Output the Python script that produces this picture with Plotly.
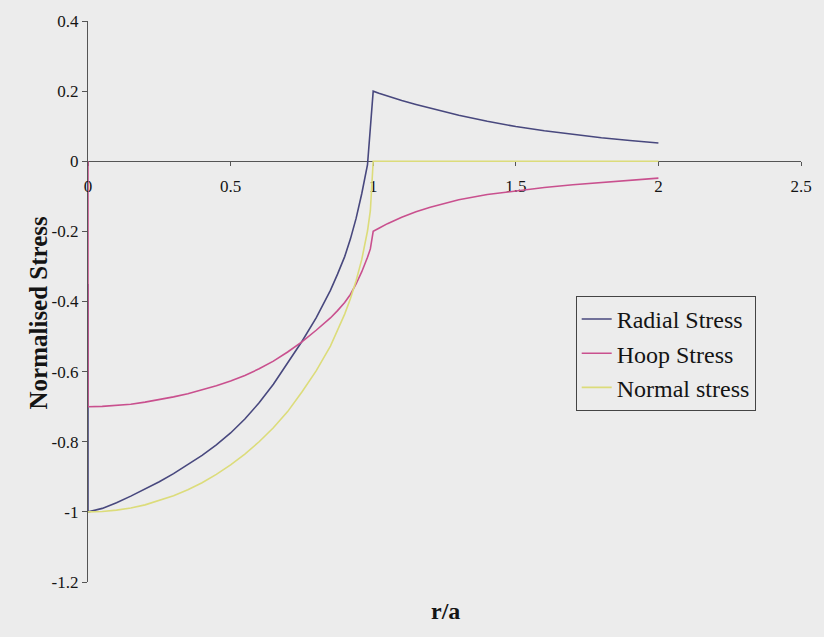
import plotly.graph_objects as go

# r/a values (0 repeated: first point is the singular value at the centre)
r = [0.0, 0.0, 0.05, 0.1, 0.15, 0.2, 0.25, 0.3, 0.35, 0.4, 0.45, 0.5, 0.55, 0.6, 0.65, 0.7,
     0.75, 0.8, 0.85, 0.875, 0.9, 0.92, 0.94, 0.96, 0.97, 0.98, 0.99, 1.0,
     1.02, 1.05, 1.1, 1.15, 1.2, 1.25, 1.3, 1.4, 1.5, 1.6, 1.7, 1.8, 1.9, 2.0]

radial = [-0.35, -1.0, -0.99, -0.974, -0.955, -0.935, -0.914, -0.891, -0.866, -0.839, -0.809,
          -0.775, -0.735, -0.689, -0.636, -0.576, -0.514, -0.447, -0.368, -0.322, -0.272, -0.222,
          -0.163, -0.092, -0.053, -0.01, 0.095, 0.2,
          0.194, 0.186, 0.173, 0.162, 0.151, 0.141, 0.131, 0.114, 0.099, 0.087, 0.076, 0.067,
          0.059, 0.052]

hoop = [0.0, -0.70, -0.699, -0.697, -0.693, -0.687, -0.68, -0.672, -0.663, -0.652, -0.64,
        -0.627, -0.611, -0.592, -0.57, -0.544, -0.515, -0.482, -0.447, -0.426, -0.403, -0.38,
        -0.35, -0.315, -0.296, -0.274, -0.25, -0.2,
        -0.191, -0.178, -0.16, -0.144, -0.131, -0.12, -0.11, -0.095, -0.084, -0.075, -0.067,
        -0.06, -0.054, -0.048]

normal = [-1.0, -1.0, -0.999, -0.995, -0.989, -0.98, -0.968, -0.954, -0.937, -0.917, -0.893,
          -0.866, -0.835, -0.8, -0.76, -0.714, -0.658, -0.598, -0.527, -0.484, -0.436, -0.392,
          -0.341, -0.28, -0.243, -0.199, -0.141, 0.0,
          0.0, 0.0, 0.0, 0.0, 0.0, 0.0, 0.0, 0.0, 0.0, 0.0, 0.0, 0.0, 0.0, 0.0]

series_names = ["Radial Stress", "Hoop Stress", "Normal stress"]
series_colors = ["#48487e", "#c9508e", "#dcdc7a"]

x_ticks = [0, 0.5, 1, 1.5, 2, 2.5]
x_ticklabels = ["0", "0.5", "1", "1.5", "2", "2.5"]
y_ticks = [0.4, 0.2, 0, -0.2, -0.4, -0.6, -0.8, -1, -1.2]
y_ticklabels = ["0.4", "0.2", "0", "-0.2", "-0.4", "-0.6", "-0.8", "-1", "-1.2"]

BG = "#ececec"
FONT = "Liberation Serif"
TXT = "#141414"

fig = go.Figure()
for name, ys, col in zip(series_names, [radial, hoop, normal], series_colors):
    fig.add_trace(go.Scatter(x=r, y=ys, mode="lines", name=name,
                             line=dict(color=col, width=1.6)))

fig.update_layout(
    width=824, height=637,
    margin=dict(l=88, r=14, t=17, b=55),
    paper_bgcolor=BG, plot_bgcolor=BG,
    font=dict(family=FONT, color=TXT),
    showlegend=True,
    legend=dict(x=0.684, y=0.51, xanchor="left", yanchor="top",
                bgcolor=BG, bordercolor="#444444", borderwidth=1,
                font=dict(family=FONT, size=24, color=TXT)),
    xaxis=dict(range=[0, 2.5], anchor="free", position=0.75,
               showline=True, linecolor="#555555", linewidth=1.2,
               ticks="outside", ticklen=4, tickcolor="#555555",
               ticklabelstandoff=5,
               tickvals=x_ticks, ticktext=x_ticklabels,
               tickfont=dict(family=FONT, size=17, color=TXT),
               showgrid=False, zeroline=False, layer="below traces"),
    yaxis=dict(range=[-1.2, 0.4],
               showline=True, linecolor="#555555", linewidth=1.2,
               ticks="outside", ticklen=5, tickcolor="#555555",
               tickvals=y_ticks, ticktext=y_ticklabels,
               tickfont=dict(family=FONT, size=17, color=TXT),
               showgrid=False, zeroline=False, layer="below traces"),
    annotations=[
        dict(text="<b>Normalised Stress</b>", x=-0.0914, y=0.481, xref="paper", yref="paper",
             textangle=-90, showarrow=False, font=dict(family=FONT, size=25, color=TXT)),
        dict(text="<b>r/a</b>", x=0.501, y=-0.078, xref="paper", yref="paper",
             showarrow=False, font=dict(family=FONT, size=24, color=TXT)),
    ],
)

fig.write_html("out.html")
